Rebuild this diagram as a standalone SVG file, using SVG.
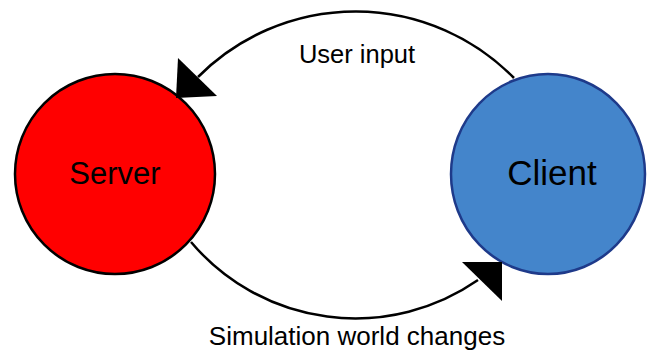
<svg xmlns="http://www.w3.org/2000/svg" width="647" height="352" viewBox="0 0 647 352">
  <style>
    .label { font-family: "Liberation Sans", Arial, sans-serif; fill: #000; text-anchor: middle; }
    .flow { fill: none; stroke: #000; stroke-width: 2.5; }
    .head { fill: #000; stroke: none; }
  </style>
  <rect width="647" height="352" fill="#fff"/>

  <g id="server">
    <ellipse cx="115" cy="174" rx="100" ry="100" fill="#ff0000" stroke="#000" stroke-width="2.5"/>
    <text class="label" x="115" y="184" font-size="31">Server</text>
  </g>

  <g id="client">
    <ellipse cx="548" cy="174" rx="97" ry="100" fill="#4485cb" stroke="#1e3a8a" stroke-width="2.5"/>
    <text class="label" x="552" y="185" font-size="35">Client</text>
  </g>

  <g id="connectors">
    <!-- client to server, over the top -->
    <path class="flow" d="M514,78 A222,222 0 0 0 198,77"/>
    <polygon class="head" points="178,58 217,96 176,98"/>
    <text class="label" x="357" y="63" font-size="25.5">User input</text>

    <!-- server to client, along the bottom -->
    <path class="flow" d="M191,242 A215,215 0 0 0 478,280"/>
    <polygon class="head" points="462,262 502,262 502,301"/>
    <text class="label" x="357" y="345" font-size="26">Simulation world changes</text>
  </g>
</svg>
